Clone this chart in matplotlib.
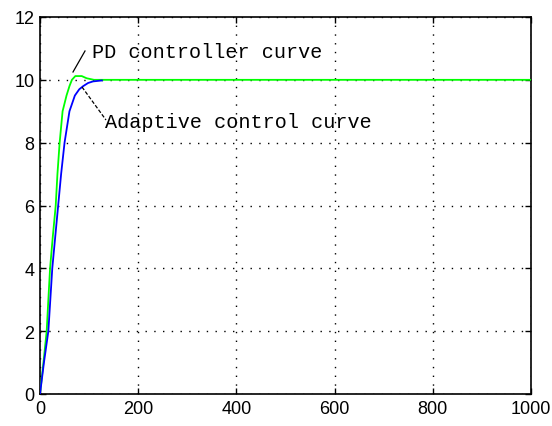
import matplotlib
matplotlib.use("Agg")
import matplotlib.pyplot as plt

# PD controller curve (green)
pd_t = [0, 7, 13.6, 17, 20.5, 26, 32, 35.5, 40, 46, 54, 60, 65, 72, 85, 95, 110, 1000]
pd_y = [0, 1, 2, 3, 4, 5, 6, 7, 8, 9, 9.5, 9.8, 10.0, 10.12, 10.12, 10.05, 10.0, 10.0]

# Adaptive control curve (blue)
ad_t = [0, 8, 17, 21, 25, 31, 37, 43, 50, 60, 71, 80, 88, 98, 108, 126]
ad_y = [0, 1, 2, 3, 4, 5, 6, 7, 8, 9, 9.5, 9.7, 9.8, 9.9, 9.95, 9.98]

xticks = [0, 200, 400, 600, 800, 1000]
yticks = [0, 2, 4, 6, 8, 10, 12]

plt.rcParams['font.family'] = ['Liberation Sans', 'DejaVu Sans']

fig = plt.figure(figsize=(5.52, 4.27), dpi=100)
ax = fig.add_axes([40/552, 1-395/427, (531-40)/552, (395-18)/427])

ax.plot(pd_t, pd_y, color=(0, 1, 0), lw=1.3, zorder=3)
ax.plot(ad_t, ad_y, color=(0, 0, 1), lw=1.3, zorder=4)

ax.set_xlim(0, 1000)
ax.set_ylim(0, 12)
ax.set_xticks(xticks)
ax.set_yticks(yticks)
ax.tick_params(direction='in', length=4, width=1, labelsize=13,
               top=True, right=True, pad=4)
for s in ax.spines.values():
    s.set_linewidth(1.2)
ax.grid(True, color='black', linestyle=(0, (1, 5.3)), linewidth=1.0)

mono = ['Liberation Mono', 'DejaVu Sans Mono']
# PD annotation
ax.annotate('', xy=(73, 73), xytext=(85, 53), xycoords='figure pixels' if False else 'data')
fig.add_artist(plt.Line2D([85/552, 73/552], [1-52/427, 1-73/427], color='black', lw=0.9,
                          transform=fig.transFigure))
fig.text(92/552, 1-52/427, 'PD controller curve', family=mono, fontsize=14.5,
         va='center', ha='left')
# Adaptive annotation
fig.add_artist(plt.Line2D([82/552, 106/552], [1-88/427, 1-121/427], color='black', lw=0.9,
                          linestyle=(0, (3, 1.5)), transform=fig.transFigure))
fig.text(105/552, 1-123/427, 'Adaptive control curve', family=mono, fontsize=14.5,
         va='center', ha='left')

fig.savefig('out.png', dpi=100, facecolor='white')
